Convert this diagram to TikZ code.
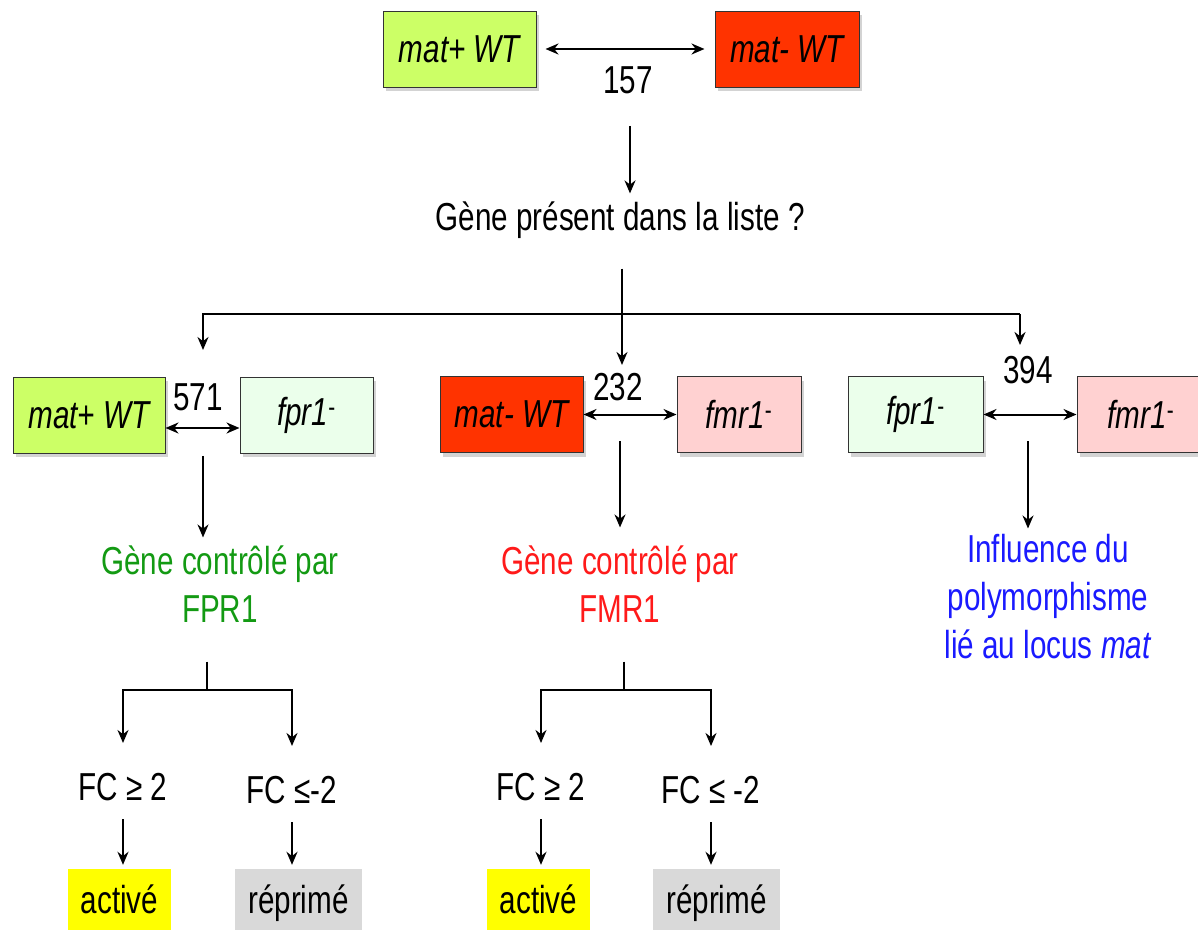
\documentclass[tikz,border=0pt]{standalone}
\usepackage{fontspec}
\setmainfont{Liberation Sans}[FakeStretch=0.76]
\usetikzlibrary{arrows.meta,shadows,positioning}
\definecolor{matplus}{HTML}{CCFF66}
\definecolor{matminus}{HTML}{FF3300}
\definecolor{fprfill}{HTML}{EBFFEB}
\definecolor{fmrfill}{HTML}{FFD1D1}
\definecolor{actfill}{HTML}{FFFF00}
\definecolor{repfill}{HTML}{D9D9D9}
\definecolor{fprtext}{HTML}{139A13}
\definecolor{fmrtext}{HTML}{FF1A1A}
\definecolor{loctext}{HTML}{1A1AFF}
\newcommand{\bigtxt}{\fontsize{39}{48}\selectfont}
\tikzset{%
  strain/.style={rectangle,draw=black!80,line width=1pt,minimum height=76pt,inner sep=0pt,font=\bigtxt\itshape,drop shadow={shadow xshift=3pt,shadow yshift=-4pt,opacity=.35}},
  wtplus/.style={strain,fill=matplus},
  wtminus/.style={strain,fill=matminus},
  fprbox/.style={strain,fill=fprfill},
  fmrbox/.style={strain,fill=fmrfill},
  plain/.style={inner sep=0pt,font=\bigtxt,align=center},
  result/.style={rectangle,inner sep=0pt,minimum height=62pt,text height=28pt,text depth=1pt,font=\bigtxt},
  link/.style={line width=2pt,-{Stealth[length=13pt,width=11pt]}},
  both/.style={line width=2pt,{Stealth[length=13pt,width=11pt]}-{Stealth[length=13pt,width=11pt]}},
  bar/.style={line width=2pt}%
}
\begin{document}
\begin{tikzpicture}[x=1pt,y=-1pt]
    \useasboundingbox (0,0) rectangle (1198,929);
    % top pair
    \node (topplus) [wtplus, minimum width=153pt] at (459.5,49) {mat+ WT};
    \node (topminus) [wtminus, minimum width=144pt] at (787,49) {mat- WT};
    \node (n157) [plain] at (628,80) {157};
    \node (question) [plain] at (620,220) {Gène présent dans la liste ?};
    \draw[both] (topplus.east) ++(9,0) -- ([xshift=-10pt]topminus.west);
    \draw[link, shorten <=32pt, shorten >=8pt] (n157.south -| 630,0) -- (question.north -| 630,0);

    % second row
    \node (mplus) [wtplus, minimum width=152pt] at (89,415) {mat+ WT};
    \node (fpra) [fprbox, minimum width=133pt] at (306.5,415) {fpr1\textsuperscript{\upshape-}};
    \node (mminus) [wtminus, minimum width=143pt] at (511.5,414.5) {mat- WT};
    \node (fmra) [fmrbox, minimum width=124pt] at (739,414.5) {fmr1\textsuperscript{\upshape-}};
    \node (fprb) [fprbox, minimum width=135pt] at (915.5,414.5) {fpr1\textsuperscript{\upshape-}};
    \node (fmrb) [fmrbox, minimum width=128pt] at (1141,414.5) {fmr1\textsuperscript{\upshape-}};
    \node (n571) [plain] at (198,397) {571};
    \node (n232) [plain] at (618,387) {232};
    \node (n394) [plain] at (1028,370) {394};

    \draw[both] ([yshift=-13pt]mplus.east) -- ([yshift=-13pt]fpra.west);
    \draw[both] (mminus.east) -- (fmra.west);
    \draw[both] (fprb.east) -- (fmrb.west);

    % branching
    \coordinate (bus) at (622,314);
    \draw[link, shorten <=30pt, shorten >=8pt] (question.south -| bus) -- (n232.north -| bus);
    \draw[bar] (bus) -- (1020,314);
    \draw[link, shorten >=8pt] (bus) -| (203,358);
    \draw[link] (1020,314) -- (1020,345);

    % conclusions
    \node (fprctrl) [plain, text=fprtext] at (220,584) {Gène contrôlé par\\FPR1};
    \node (fmrctrl) [plain, text=fmrtext] at (620,584) {Gène contrôlé par\\FMR1};
    \node (locus) [plain, text=loctext] at (1048,597) {Influence du\\polymorphisme\\lié au locus \textit{mat}};
    \draw[link, shorten <=45pt, shorten >=8pt] (n571.south -| 203,0) -- (fprctrl.north -| 203,0);
    \draw[link, shorten <=40pt, shorten >=18pt] (n232.south -| 620,0) -- (fmrctrl.north -| 620,0);
    \draw[link, shorten <=57pt, shorten >=6pt] (n394.south) -- (locus.north -| n394.south);

    % fold change
    \node (fcupa) [plain] at (123,787) {FC ≥ 2};
    \node (fcdna) [plain] at (292,790) {FC ≤-2};
    \node (fcupb) [plain] at (541,787) {FC ≥ 2};
    \node (fcdnb) [plain] at (711,790) {FC ≤ -2};
    \coordinate (forka) at (207,690);
    \coordinate (forkb) at (624,690);
    \draw[bar, shorten <=39pt] (forka |- fprctrl.south) -- (forka);
    \draw[bar, shorten <=39pt] (forkb |- fmrctrl.south) -- (forkb);
    \draw[link, shorten >=30pt] (forka) -| (fcupa);
    \draw[link, shorten >=30pt] (forka) -| (fcdna);
    \draw[link, shorten >=30pt] (forkb) -| (fcupb);
    \draw[link, shorten >=30pt] (forkb) -| (fcdnb);

    % results
    \node (acta) [result, fill=actfill, minimum width=103pt] at (119.5,900) {activé};
    \node (repa) [result, fill=repfill, minimum width=127pt] at (298.5,900) {réprimé};
    \node (actb) [result, fill=actfill, minimum width=103pt] at (538.5,900) {activé};
    \node (repb) [result, fill=repfill, minimum width=127pt] at (716.5,900) {réprimé};
    \draw[link, shorten <=18pt, shorten >=4pt] (fcupa.south) -- (fcupa.south |- acta.north);
    \draw[link, shorten <=18pt, shorten >=4pt] (fcdna.south) -- (fcdna.south |- repa.north);
    \draw[link, shorten <=18pt, shorten >=4pt] (fcupb.south) -- (fcupb.south |- actb.north);
    \draw[link, shorten <=18pt, shorten >=4pt] (fcdnb.south) -- (fcdnb.south |- repb.north);
\end{tikzpicture}
\end{document}
